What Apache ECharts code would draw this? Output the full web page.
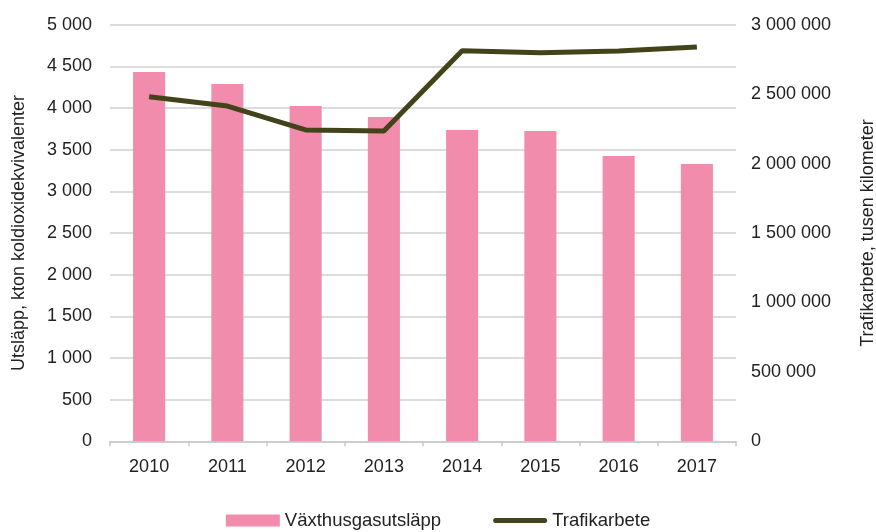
<!DOCTYPE html>
<html>
<head>
<meta charset="utf-8">
<script src="https://cdn.jsdelivr.net/npm/echarts@6/dist/echarts.min.js"></script>
<style>
html,body{margin:0;padding:0;background:#fff;}
#c{width:876px;height:532px;}
</style>
</head>
<body>
<div id="c"></div>
<script>
const categories = ['2010','2011','2012','2013','2014','2015','2016','2017'];
const emissions = [4432, 4288, 4025, 3892, 3736, 3724, 3425, 3329];
const traffic = [2481000, 2414000, 2242000, 2234000, 2813000, 2798000, 2810000, 2839000];
const leftTitle = 'Utsläpp, kton koldioxidekvivalenter';
const rightTitle = 'Trafikarbete, tusen kilometer';
const barName = 'Växthusgasutsläpp';
const lineName = 'Trafikarbete';

function fmt(v){ return String(v).replace(/\B(?=(\d{3})+(?!\d))/g, ' '); }

const font = 'Liberation Sans, Arial, sans-serif';
const chart = echarts.init(document.getElementById('c'));
chart.setOption({
  animation: false,
  textStyle: {fontFamily: font},
  grid: {left: 110, right: 140, top: 24.7, bottom: 90.7, containLabel: false, outerBoundsMode: 'none'},
  legend: {
    top: 506, left: 'center', itemGap: 52, itemWidth: 54, itemHeight: 12,
    textStyle: {fontSize: 18.5, color: '#222', fontFamily: font},
    data: [
      {name: barName, icon: 'rect'},
      {name: lineName, icon: 'path://M2.5,0 L51.5,0 A2.5,2.5 0 0 1 51.5,5 L2.5,5 A2.5,2.5 0 0 1 2.5,0 Z'}
    ]
  },
  xAxis: {
    type: 'category', data: categories,
    axisLine: {lineStyle: {color: '#c8c8c8', width: 1.5}},
    axisTick: {show: true, length: 5, lineStyle: {color: '#c8c8c8', width: 1.5}},
    axisLabel: {fontSize: 18, color: '#222', margin: 17, fontFamily: font}
  },
  yAxis: [
    {
      type: 'value', min: 0, max: 5000, interval: 500,
      name: leftTitle, nameLocation: 'middle', nameGap: 82, nameRotate: 90,
      nameTextStyle: {fontSize: 18, color: '#222', fontFamily: font},
      axisLine: {show: false}, axisTick: {show: false},
      splitLine: {lineStyle: {color: '#d0d0d0', width: 1.5}},
      axisLabel: {fontSize: 18, color: '#222', margin: 18, formatter: fmt, fontFamily: font}
    },
    {
      type: 'value', min: 0, max: 3000000, interval: 500000,
      name: rightTitle, nameLocation: 'middle', nameGap: 123, nameRotate: 90,
      nameTextStyle: {fontSize: 18, color: '#222', fontFamily: font},
      axisLine: {show: false}, axisTick: {show: false},
      splitLine: {show: false},
      axisLabel: {fontSize: 18, color: '#222', margin: 15, formatter: fmt, fontFamily: font}
    }
  ],
  series: [
    {
      name: barName, type: 'bar', data: emissions, yAxisIndex: 0,
      barWidth: '41%', itemStyle: {color: '#F18CAD'}
    },
    {
      name: lineName, type: 'line', data: traffic, yAxisIndex: 1,
      symbol: 'none', lineStyle: {color: '#434319', width: 5},
      itemStyle: {color: '#434319'}
    }
  ]
});
</script>
</body>
</html>
